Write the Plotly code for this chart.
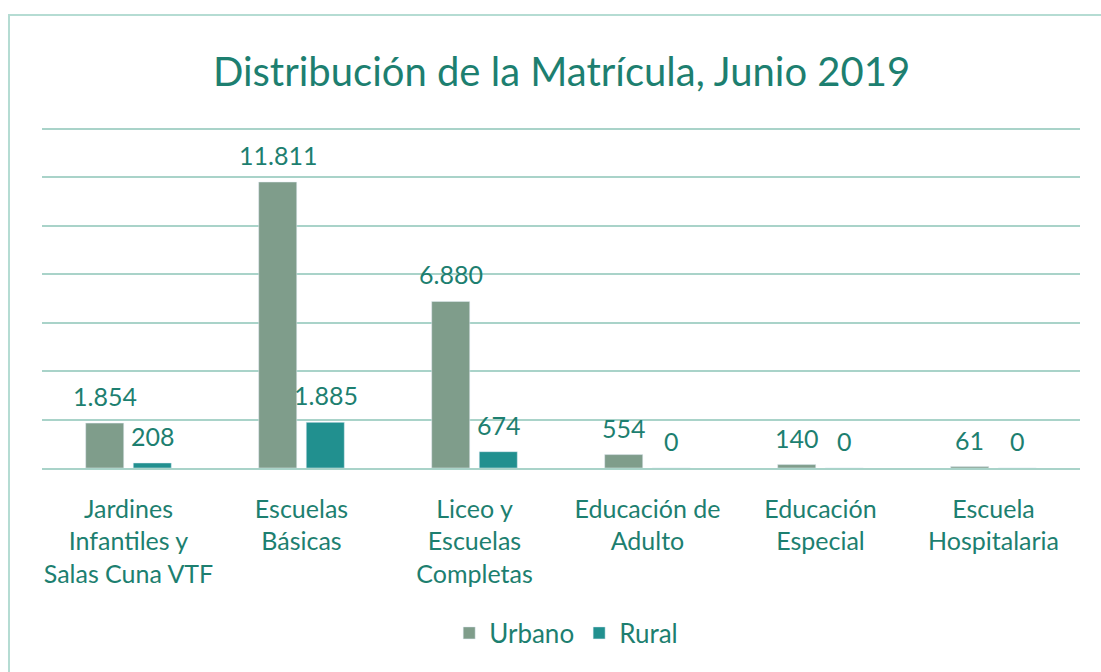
import plotly.graph_objects as go

categories = [
    "Jardines<br>Infantiles y<br>Salas Cuna VTF",
    "Escuelas<br>Básicas",
    "Liceo y<br>Escuelas<br>Completas",
    "Educación de<br>Adulto",
    "Educación<br>Especial",
    "Escuela<br>Hospitalaria",
]
urbano = [1854, 11811, 6880, 554, 140, 61]
rural = [208, 1885, 674, 0, 0, 0]

TEXT = "#1d7f70"
URB = "#7f9d8b"
RUR = "#21908f"
GRID = "#a9d3c9"
FONT = "Lato"


def fmt(v):
    return f"{v:,}".replace(",", ".")


fig = go.Figure()
annotations = []
for name, vals, col, shift in [("Urbano", urbano, URB, -24), ("Rural", rural, RUR, 24)]:
    fig.add_trace(go.Bar(x=categories, y=vals, name=name, marker_color=col))
    for c, v in zip(categories, vals):
        annotations.append(dict(
            x=c, y=v, xref="x", yref="y", text=fmt(v), showarrow=False,
            xshift=shift, yshift=27, yanchor="middle", xanchor="center",
            font=dict(size=25, color=TEXT, family=FONT),
        ))

# plot height 341 px; 14000 sits 2 px below the top so its gridline is drawn
fig.update_layout(
    width=1101, height=672,
    paper_bgcolor="white", plot_bgcolor="white",
    font=dict(family=FONT, color=TEXT, size=25),
    title=dict(text="Distribución de la Matrícula, Junio 2019",
               x=0.51, xanchor="center", yref="container", y=1 - 72 / 672,
               yanchor="middle",
               font=dict(size=40, color=TEXT, family=FONT)),
    margin=dict(l=42, r=21, t=127, b=204, autoexpand=False),
    barmode="group", bargap=0.45, bargroupgap=0.2,
    legend=dict(orientation="h", x=0.505, xanchor="center",
                yref="container", y=1 - 633 / 672, yanchor="middle",
                font=dict(size=26, color=TEXT, family=FONT)),
    showlegend=True,
    annotations=annotations,
    shapes=[dict(type="rect", xref="paper", yref="paper", x0=-0.0318, x1=1.1,
                 y0=-0.65, y1=1.3284, line=dict(color="#b5dcd3", width=2),
                 layer="below")],
)
fig.update_yaxes(range=[0, 14083], tick0=0, dtick=2000, showticklabels=False,
                 showgrid=True, gridcolor=GRID, gridwidth=1.5, zeroline=False,
                 showline=False, automargin=False)
fig.update_xaxes(showline=True, linecolor=GRID, linewidth=1.5,
                 tickfont=dict(size=25, color=TEXT, family=FONT),
                 ticks="", ticklabelstandoff=18, automargin=False)

fig.write_html("out.html", config={"displayModeBar": False},
               post_script="document.body.style.margin='0';")
